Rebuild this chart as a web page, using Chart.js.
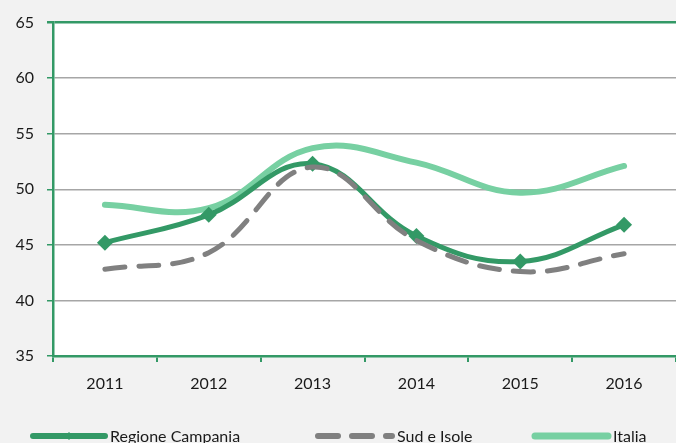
<!DOCTYPE html>
<html lang="it">
<head>
<meta charset="UTF-8">
<title>Regione Campania</title>
<script src="https://cdn.jsdelivr.net/npm/chart.js"></script>
<style>
  html, body { margin: 0; padding: 0; background: #f2f2f2; overflow: hidden; }
  #wrap { width: 676px; height: 443px; }
</style>
</head>
<body>
<div id="wrap"><canvas id="myChart" width="676" height="443"></canvas></div>
<script>
// data
const years = ['2011', '2012', '2013', '2014', '2015', '2016'];
const campania = [45.2, 47.7, 52.3, 45.8, 43.5, 46.8];
const sudIsole = [42.8, 44.3, 52.0, 45.4, 42.6, 44.2];
const italia = [48.6, 48.3, 53.7, 52.4, 49.7, 52.1];
const yTicks = [35, 40, 45, 50, 55, 60, 65];

const GREEN = '#339966';
const LIGHT = '#77d0a2';
const GREY = '#808080';

// white plot area on grey page
const bgPlugin = {
  id: 'bg',
  beforeDraw(chart) {
    const { ctx, chartArea: a } = chart;
    ctx.save();
    ctx.fillStyle = '#f2f2f2';
    ctx.fillRect(0, 0, chart.width, chart.height);
    ctx.fillStyle = '#ffffff';
    ctx.fillRect(a.left, a.top, a.right - a.left, a.bottom - a.top);
    ctx.restore();
  }
};

// legend drawn at the bottom like the original
const legendPlugin = {
  id: 'bottomLegend',
  afterDraw(chart) {
    const ctx = chart.ctx;
    const y = 436;
    const items = [
      { x: 33, w: 72, ds: 0 },
      { x: 318, w: 74, ds: 1 },
      { x: 535, w: 73, ds: 2 }
    ];
    ctx.save();
    ctx.font = '16px Lato, "Open Sans", sans-serif';
    ctx.textBaseline = 'middle';
    items.forEach(it => {
      const ds = chart.data.datasets[it.ds];
      ctx.strokeStyle = ds.borderColor;
      ctx.lineWidth = ds.borderWidth + 1;
      ctx.lineCap = 'round';
      ctx.setLineDash(ds.borderDash || []);
      ctx.beginPath();
      ctx.moveTo(it.x, y);
      ctx.lineTo(it.x + it.w, y);
      ctx.stroke();
      ctx.setLineDash([]);
      if (ds.pointRadius > 0) {
        const cx = it.x + it.w / 2, r = 4;
        ctx.fillStyle = ds.borderColor;
        ctx.beginPath();
        ctx.moveTo(cx, y - r); ctx.lineTo(cx + r, y); ctx.lineTo(cx, y + r); ctx.lineTo(cx - r, y);
        ctx.closePath();
        ctx.fill();
      }
      ctx.fillStyle = '#1a1a1a';
      ctx.fillText(ds.label, it.x + it.w + 5, y + 1);
    });
    ctx.restore();
  }
};

const ctx = document.getElementById('myChart').getContext('2d');
new Chart(ctx, {
  type: 'line',
  data: {
    labels: years,
    datasets: [
      {
        label: 'Regione Campania',
        data: campania,
        borderColor: GREEN,
        backgroundColor: GREEN,
        borderWidth: 5,
        pointStyle: 'rectRot',
        pointRadius: 8,
        pointBorderWidth: 0,
        tension: 0.4,
        order: 1
      },
      {
        label: 'Sud e Isole',
        data: sudIsole,
        borderColor: GREY,
        backgroundColor: GREY,
        borderWidth: 5,
        borderDash: [20, 14],
        borderCapStyle: 'round',
        pointRadius: 0,
        tension: 0.4,
        order: 0
      },
      {
        label: 'Italia',
        data: italia,
        borderColor: LIGHT,
        backgroundColor: LIGHT,
        borderWidth: 6,
        borderCapStyle: 'round',
        pointRadius: 0,
        tension: 0.4,
        order: 2
      }
    ]
  },
  options: {
    responsive: false,
    animation: false,
    layout: { autoPadding: false, padding: { top: 22, right: -11, bottom: 0, left: 0 } },
    plugins: {
      legend: { display: false },
      tooltip: { enabled: false }
    },
    scales: {
      x: {
        offset: true,
        grid: {
          offset: true,
          drawOnChartArea: false,
          color: GREEN,
          lineWidth: 2,
          tickLength: 6
        },
        border: { color: GREEN, width: 2.5 },
        ticks: {
          color: '#1a1a1a',
          padding: 12,
          font: { family: 'Lato, "Open Sans", sans-serif', size: 16 }
        },
        afterFit(scale) {
          scale.height = 87;
          scale.paddingLeft = 0;
          scale.paddingRight = 0;
        }
      },
      y: {
        min: 35,
        max: 65,
        afterBuildTicks(scale) { scale.ticks = yTicks.map(v => ({ value: v })); },
        grid: {
          color: c => (c.tick && (c.tick.value === 65 || c.tick.value === 35)) ? GREEN : '#a6a6a6',
          tickColor: GREEN,
          lineWidth: c => (c.tick && c.tick.value === 65) ? 2.5 : 1.5,
          tickLength: 6
        },
        border: { color: GREEN, width: 2.5 },
        ticks: {
          color: '#1a1a1a',
          padding: 13,
          font: { family: 'Lato, "Open Sans", sans-serif', size: 16 }
        },
        afterFit(scale) { scale.width = 53; }
      }
    }
  },
  plugins: [bgPlugin, legendPlugin]
});
</script>
</body>
</html>
